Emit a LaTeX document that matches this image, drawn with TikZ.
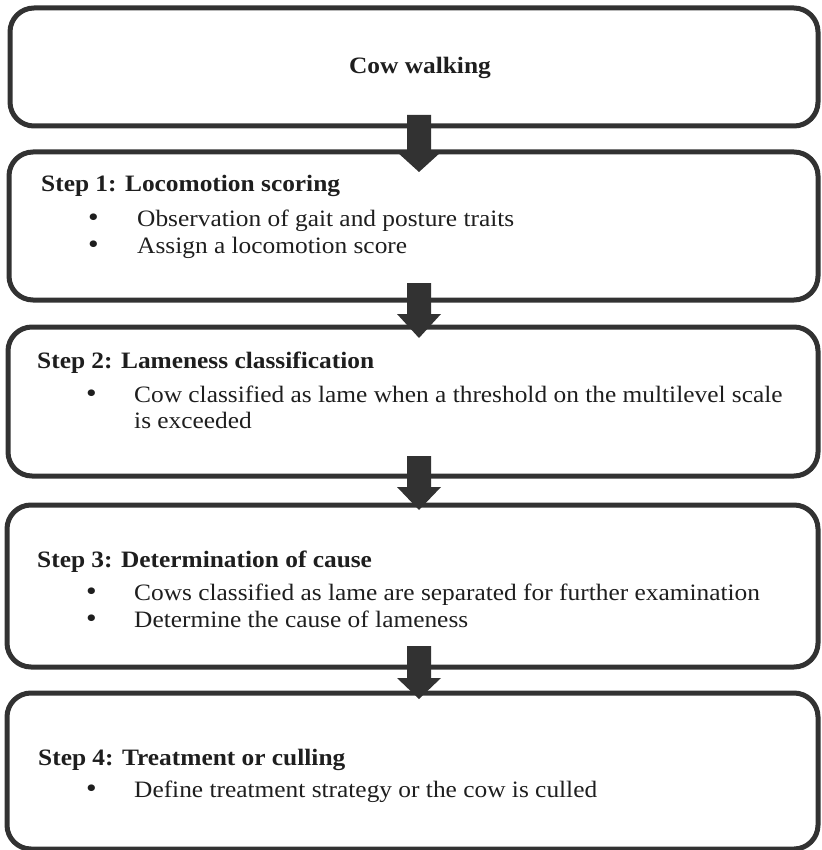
\documentclass[tikz,border=0pt]{standalone}
\usepackage{fontspec}
\setmainfont{Liberation Serif}[FakeStretch=1.08]
\definecolor{edge}{RGB}{50,50,50}
\definecolor{ink}{RGB}{30,30,30}
\tikzset{
  box/.style={draw=edge, line width=5pt, rounded corners=24pt, inner sep=0pt},
  txt/.style={inner sep=0pt, anchor=base west, text=ink, font=\fontsize{23.5}{27}\selectfont},
  lbl/.style={txt, font=\fontsize{23.5}{27}\selectfont\bfseries},
  bul/.style={txt, font=\fontsize{28}{27}\selectfont, text height=12pt, text depth=0pt},
  arrowfill/.style={fill=edge},
}
\newcommand\barrow[3]{\fill[arrowfill] (407,-#1) -- (431,-#1) -- (431,-#2) -- (441,-#2) -- (419,-#3) -- (397,-#2) -- (407,-#2) -- cycle;}
\begin{document}
\begin{tikzpicture}[x=1pt,y=1pt]
\useasboundingbox (0,0) rectangle (821,-850);
% boxes
\node[box, minimum width=808pt, minimum height=118pt] (b0) at (414,-67) {};
\node[box, minimum width=809pt, minimum height=148pt] (b1) at (413.5,-226) {};
\node[box, minimum width=810pt, minimum height=149pt] (b2) at (413,-401.5) {};
\node[box, minimum width=811pt, minimum height=162pt] (b3) at (412.5,-586) {};
\node[box, minimum width=811pt, minimum height=156pt] (b4) at (412.5,-771) {};
% arrows
\barrow{115}{152}{172}
\barrow{283}{314}{338}
\barrow{456}{487}{510}
\barrow{646}{678}{699}
% texts
\node[lbl, anchor=base] (t0) at (420,-74) {Cow walking};

\node[lbl] (t1) at (41,-192) {Step 1: Locomotion scoring};
\node[bul] (t1a) at (88,-226) {•};
\node[txt] (t1b) at (137,-226) {Observation of gait and posture traits};
\node[bul] (t1c) at (88,-253) {•};
\node[txt] (t1d) at (137,-253) {Assign a locomotion score};

\node[lbl] (t2) at (37,-368) {Step 2: Lameness classification};
\node[bul] (t2a) at (86,-402) {•};
\node[txt] (t2b) at (134,-402) {Cow classified as lame when a threshold on the multilevel scale};
\node[txt] (t2c) at (134,-428) {is exceeded};

\node[lbl] (t3) at (37,-567) {Step 3: Determination of cause};
\node[bul] (t3a) at (86,-600) {•};
\node[txt] (t3b) at (134,-600) {Cows classified as lame are separated for further examination};
\node[bul] (t3c) at (86,-627) {•};
\node[txt] (t3d) at (134,-627) {Determine the cause of lameness};

\node[lbl] (t4) at (38,-765) {Step 4: Treatment or culling};
\node[bul] (t4a) at (86,-797) {•};
\node[txt] (t4b) at (134,-797) {Define treatment strategy or the cow is culled};
\end{tikzpicture}
\end{document}
